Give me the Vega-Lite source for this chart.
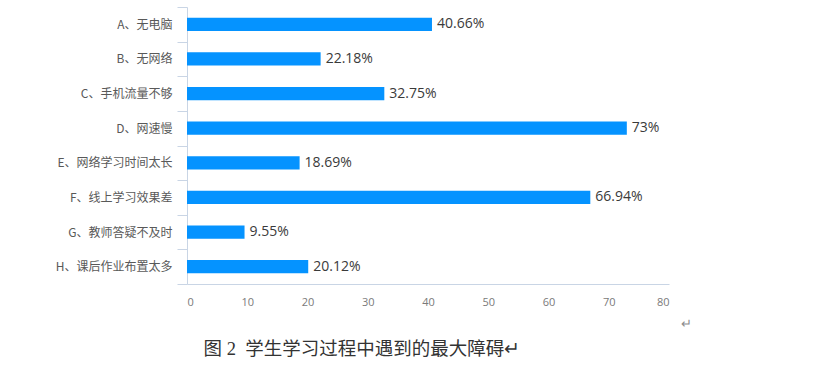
{
  "$schema": "https://vega.github.io/schema/vega-lite/v6.json",
  "width": 482,
  "height": 277,
  "autosize": {"type": "none"},
  "padding": {"left": 187, "top": 7, "right": 169, "bottom": 88},
  "background": "white",
  "config": {"view": {"stroke": null}},
  "data": {
    "values": [
      {"category": "A、无电脑", "value": 40.66, "label": "40.66%"},
      {"category": "B、无网络", "value": 22.18, "label": "22.18%"},
      {"category": "C、手机流量不够", "value": 32.75, "label": "32.75%"},
      {"category": "D、网速慢", "value": 73, "label": "73%"},
      {"category": "E、网络学习时间太长", "value": 18.69, "label": "18.69%"},
      {"category": "F、线上学习效果差", "value": 66.94, "label": "66.94%"},
      {"category": "G、教师答疑不及时", "value": 9.55, "label": "9.55%"},
      {"category": "H、课后作业布置太多", "value": 20.12, "label": "20.12%"}
    ]
  },
  "encoding": {
    "y": {
      "field": "category",
      "type": "nominal",
      "sort": null,
      "scale": {"paddingInner": 0, "paddingOuter": 0},
      "axis": {
        "title": "↵",
        "titleX": 493,
        "titleY": 316,
        "titleAngle": 0,
        "titleAlign": "left",
        "titleBaseline": "middle",
        "titleFont": "Noto Sans CJK SC",
        "titleFontSize": 13,
        "titleFontWeight": "normal",
        "titleColor": "#8C8C8C",
        "tickBand": "extent",
        "tickSize": 10,
        "tickColor": "#C9D5E5",
        "domainColor": "#C9D5E5",
        "labelFont": "Noto Sans CJK SC",
        "labelFontSize": 12,
        "labelColor": "#595959",
        "labelPadding": 5,
        "grid": false
      }
    }
  },
  "layer": [
    {
      "mark": {"type": "bar", "height": {"band": 0.385}, "color": "#0593FF"},
      "encoding": {
        "x": {
          "field": "value",
          "type": "quantitative",
          "scale": {"domain": [0, 80], "nice": false},
          "axis": {
            "values": [0, 10, 20, 30, 40, 50, 60, 70, 80],
            "ticks": false,
            "tickSize": 0,
            "grid": false,
            "domainColor": "#C9D5E5",
            "labelFont": "Open Sans",
            "labelFontSize": 11,
            "labelColor": "#7A7A7A",
            "labelPadding": 12,
            "title": "图\u00a02\u00a0\u00a0学生学习过程中遇到的最大障碍↵",
            "titleX": 16,
            "titleY": 70,
            "titleAlign": "left",
            "titleAnchor": "start",
            "titleBaseline": "alphabetic",
            "titleFont": "Liberation Serif, Noto Sans CJK SC",
            "titleFontSize": 18.5,
            "titleFontWeight": "normal",
            "titleColor": "#333333"
          }
        }
      }
    },
    {
      "mark": {"type": "text", "align": "left", "baseline": "middle", "dx": 5, "font": "Open Sans", "fontSize": 14, "color": "#3A3A3A"},
      "encoding": {
        "x": {"field": "value", "type": "quantitative"},
        "text": {"field": "label"}
      }
    }
  ]
}
